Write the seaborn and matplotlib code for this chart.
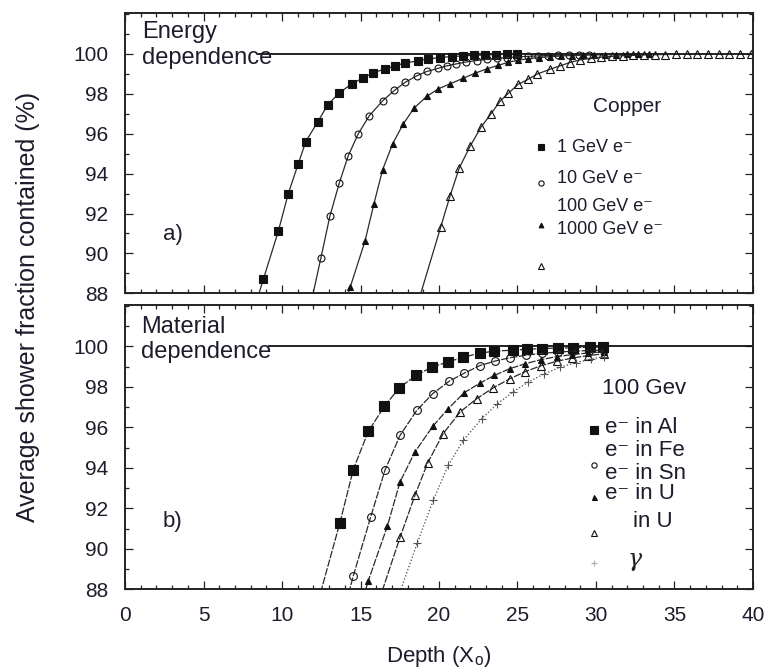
import matplotlib
matplotlib.use("Agg")
import matplotlib.pyplot as plt
from matplotlib.ticker import MultipleLocator
import seaborn as sns

# ---------------- data ----------------
# a) energy dependence in copper (depth in X0, contained fraction in %)
x_1gev = [8.10, 8.81, 9.76, 10.40, 11.04, 11.51, 12.28, 12.91, 13.65, 14.44, 15.18, 15.81,
          16.56, 17.20, 17.83, 18.66, 19.32, 20.07, 20.80, 21.50, 22.20, 22.90, 23.60, 24.30, 25.00]
y_1gev = [86.9, 88.7, 91.1, 93.0, 94.5, 95.6, 96.6, 97.45, 98.05, 98.5, 98.8, 99.05,
          99.25, 99.4, 99.55, 99.65, 99.75, 99.82, 99.87, 99.9, 99.93, 99.95, 99.97, 99.98, 99.99]

x_10gev = [11.90, 12.48, 13.05, 13.65, 14.22, 14.86, 15.56, 16.41, 17.16, 17.83, 18.58, 19.22,
           19.96, 20.49, 21.10, 21.75, 22.40, 23.05, 23.70, 24.35, 25.00, 25.65, 26.30, 26.95,
           27.60, 28.25, 28.90, 29.55]
y_10gev = [87.7, 89.78, 91.87, 93.53, 94.9, 96.0, 96.9, 97.65, 98.17, 98.57, 98.9, 99.12,
           99.28, 99.4, 99.5, 99.6, 99.67, 99.73, 99.78, 99.82, 99.85, 99.88, 99.9, 99.92,
           99.94, 99.95, 99.96, 99.97]

x_100gev = [13.60, 14.34, 15.28, 15.86, 16.41, 17.05, 17.73, 18.43, 19.22, 19.96, 20.70, 21.54,
            22.29, 23.04, 23.78, 24.41, 25.02, 25.70, 26.40, 27.10, 27.80, 28.50, 29.20, 29.90,
            30.60, 31.30, 32.00, 32.70, 33.40]
y_100gev = [86.4, 88.3, 90.6, 92.5, 94.2, 95.5, 96.5, 97.3, 97.87, 98.25, 98.5, 98.78,
            99.03, 99.25, 99.43, 99.58, 99.68, 99.76, 99.82, 99.86, 99.9, 99.92, 99.94, 99.95,
            99.96, 99.97, 99.98, 99.99, 99.99]

x_1000gev = [18.50, 20.10, 20.70, 21.29, 21.98, 22.67, 23.31, 23.88, 24.42, 25.05, 25.69, 26.22,
             27.07, 27.71, 28.34, 28.98, 29.66, 30.34, 31.02, 31.70, 32.38, 33.06, 33.74, 34.42,
             35.10, 35.78, 36.46, 37.14, 37.82, 38.50, 39.18, 39.86]
y_1000gev = [87.1, 91.3, 92.87, 94.28, 95.37, 96.32, 97.0, 97.62, 98.03, 98.48, 98.73, 98.98,
             99.23, 99.4, 99.57, 99.7, 99.78, 99.84, 99.88, 99.91, 99.93, 99.95, 99.96, 99.97,
             99.98, 99.98, 99.99, 99.99, 100.0, 100.0, 100.0, 100.0]

# b) material dependence at 100 GeV
x_al = [12.30, 13.69, 14.54, 15.50, 16.52, 17.47, 18.54, 19.54, 20.55, 21.55, 22.61, 23.52,
        24.73, 25.58, 26.54, 27.60, 28.55, 29.62, 30.46]
y_al = [87.4, 91.29, 93.92, 95.81, 97.04, 97.96, 98.57, 98.98, 99.23, 99.47, 99.67, 99.77,
        99.82, 99.86, 99.9, 99.92, 99.94, 99.96, 99.97]

x_fe = [13.80, 14.54, 15.65, 16.56, 17.52, 18.58, 19.60, 20.66, 21.61, 22.61, 23.57, 24.55,
        25.55, 26.55, 27.55, 28.55, 29.55, 30.50]
y_fe = [86.5, 88.66, 91.58, 93.89, 95.61, 96.84, 97.67, 98.29, 98.68, 99.06, 99.28, 99.45,
        99.57, 99.66, 99.72, 99.77, 99.8, 99.83]

x_sn = [14.80, 15.50, 16.71, 17.52, 18.47, 19.60, 20.55, 21.61, 22.61, 23.52, 24.50, 25.50,
        26.50, 27.50, 28.50, 29.50, 30.50]
y_sn = [86.6, 88.43, 91.12, 93.31, 94.79, 96.05, 96.9, 97.72, 98.19, 98.57, 98.9, 99.15,
        99.35, 99.5, 99.6, 99.68, 99.74]

x_u = [16.20, 17.52, 18.47, 19.28, 20.27, 21.34, 22.40, 23.46, 24.50, 25.50, 26.50, 27.50,
       28.50, 29.50, 30.50]
y_u = [87.5, 90.57, 92.65, 94.25, 95.7, 96.76, 97.42, 97.96, 98.4, 98.76, 99.05, 99.27,
       99.43, 99.55, 99.64]

x_gamma = [17.30, 18.62, 19.64, 20.59, 21.55, 22.72, 23.70, 24.70, 25.70, 26.70, 27.70, 28.70,
           29.70, 30.50]
y_gamma = [87.4, 90.3, 92.41, 94.13, 95.36, 96.43, 97.15, 97.75, 98.25, 98.65, 98.97, 99.2,
           99.38, 99.5]

full_containment = 100.0
x_ticks = [0, 5, 10, 15, 20, 25, 30, 35, 40]
y_ticks = [88, 90, 92, 94, 96, 98, 100]

energy_labels = ["1 GeV e\u207b", "10 GeV e\u207b", "100 GeV e\u207b", "1000 GeV e\u207b"]
material_labels = ["e\u207b in Al", "e\u207b in Fe", "e\u207b in Sn", "e\u207b in U"]

# ---------------- style ----------------
sns.set_theme(style="ticks")
plt.rcParams["font.family"] = ["Liberation Sans", "DejaVu Sans"]
plt.rcParams["mathtext.fontset"] = "custom"
plt.rcParams["mathtext.rm"] = "Liberation Sans"
plt.rcParams["mathtext.it"] = "Liberation Sans:italic"

INK = "#1c1c2c"
LINE = "#2a2a2a"

fig = plt.figure(figsize=(7.75, 6.68), dpi=100)
ax1 = fig.add_axes([0.1613, 0.5609, 0.8103, 0.4196])
ax2 = fig.add_axes([0.1613, 0.1178, 0.8103, 0.4256])


def curve(ax, xs, ys, marker, ms, filled=True, ls="-", mcolor="#111111", lcolor=LINE):
    sns.lineplot(x=xs, y=ys, ax=ax, estimator=None, sort=False, color=lcolor,
                 linewidth=0.9, linestyle=ls, marker=marker, markersize=ms,
                 markerfacecolor=mcolor if filled else "none",
                 markeredgecolor=mcolor, markeredgewidth=0.8)


# panel a)
curve(ax1, x_1gev, y_1gev, "s", 6.2)
curve(ax1, x_10gev, y_10gev, "o", 5.0, filled=False)
curve(ax1, x_100gev, y_100gev, "^", 4.0)
curve(ax1, x_1000gev, y_1000gev, "^", 5.2, filled=False)
ax1.hlines(full_containment, 8.5, 40.2, color="#111111", lw=1.3, zorder=1)

# panel b)
dash = (0, (6, 1.2))
curve(ax2, x_al, y_al, "s", 7.2, ls=dash)
curve(ax2, x_fe, y_fe, "o", 5.6, filled=False, ls=dash)
curve(ax2, x_sn, y_sn, "^", 4.6, ls=dash)
curve(ax2, x_u, y_u, "^", 6.0, filled=False, ls=dash)
curve(ax2, x_gamma, y_gamma, "+", 5.5, ls=":", mcolor="#555555", lcolor="#444444")
ax2.hlines(full_containment, 9.1, 40.2, color="#111111", lw=1.3, zorder=1)

for ax in (ax1, ax2):
    ax.set_xlim(0, 40.0)
    ax.set_ylim(88, 102.05)
    ax.set_xticks(x_ticks)
    ax.set_yticks(y_ticks)
    ax.xaxis.set_minor_locator(MultipleLocator(1))
    ax.yaxis.set_minor_locator(MultipleLocator(1))
    ax.tick_params(which="both", direction="in", top=True, right=True,
                   color="#222222", width=0.9, labelsize=15, labelcolor=INK, pad=12)
    ax.tick_params(which="major", length=6)
    ax.tick_params(which="minor", length=3)
    for s in ax.spines.values():
        s.set_linewidth(1.4)
        s.set_color("#222222")
    ax.set_xlabel("")
    ax.set_ylabel("")
ax1.tick_params(labelbottom=False)

# annotations panel a)
ax1.text(1.06, 100.45, "Energy\ndependence", fontsize=17, color=INK, va="center",
         ha="left", linespacing=1.2)
ax1.text(2.42, 90.97, "a)", fontsize=16, color=INK, va="center", ha="left")
ax1.text(29.8, 97.34, "Copper", fontsize=15, color=INK, va="center", ha="left")
for lab, yy in zip(energy_labels, [95.29, 93.78, 92.34, 91.2]):
    ax1.text(27.5, yy, lab, fontsize=13, color=INK, va="center", ha="left")
key_style_a = [("s", 5.0, True), ("o", 3.8, False), ("^", 3.4, True), ("^", 4.2, False)]
for (m, ms, f), yy in zip(key_style_a, [95.32, 93.52, 91.42, 89.37]):
    ax1.plot([26.48], [yy], linestyle="none", marker=m, markersize=ms,
             markerfacecolor="#111111" if f else "none", markeredgecolor="#111111",
             markeredgewidth=0.8)

# annotations panel b)
ax2.text(1.0, 100.35, "Material\ndependence", fontsize=17, color=INK, va="center",
         ha="left", linespacing=1.2)
ax2.text(2.42, 91.37, "b)", fontsize=16, color=INK, va="center", ha="left")
ax2.text(30.38, 97.93, "100 Gev", fontsize=16, color=INK, va="center", ha="left")
for lab, yy in zip(material_labels, [96.0, 94.87, 93.74, 92.75]):
    ax2.text(30.57, yy, lab, fontsize=16, color=INK, va="center", ha="left")
ax2.text(32.36, 91.34, "in U", fontsize=16, color=INK, va="center", ha="left")
ax2.text(32.04, 89.45, "\u03b3", fontsize=17, color="#222222", va="center", ha="left",
         family="DejaVu Serif", style="italic")
key_style_b = [("s", 5.4, True, "#111111"), ("o", 3.8, False, "#111111"),
               ("^", 3.6, True, "#111111"), ("^", 4.4, False, "#111111"),
               ("+", 4.4, True, "#aaaaaa")]
for (m, ms, f, c), yy in zip(key_style_b, [95.86, 94.13, 92.57, 90.78, 89.31]):
    ax2.plot([29.9], [yy], linestyle="none", marker=m, markersize=ms,
             markerfacecolor=c if f else "none", markeredgecolor=c, markeredgewidth=0.8)

ax2.set_xlabel("Depth (X$_{\\mathrm{o}}$)", fontsize=16, color=INK, labelpad=14)
fig.text(28 / 775, 1 - 307 / 668, "Average shower fraction contained (%)", rotation=90,
         fontsize=18, color=INK, ha="center", va="center")

fig.savefig("out.png", dpi=100)
